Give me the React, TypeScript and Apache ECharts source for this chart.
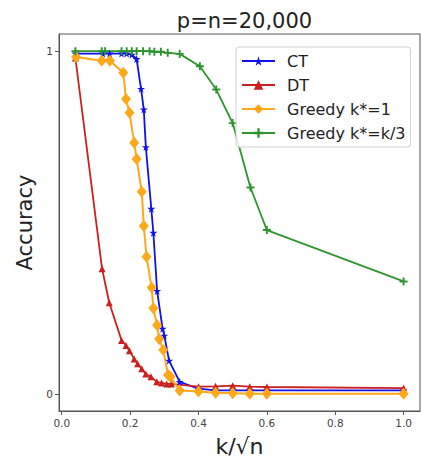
import React, { useEffect, useRef } from "react";
import * as echarts from "echarts";

const xCT = [0.04, 0.12, 0.14, 0.175, 0.19, 0.205, 0.219, 0.232, 0.24, 0.246, 0.262, 0.268, 0.279, 0.295, 0.3, 0.314, 0.345, 0.4, 0.45, 0.5, 0.55, 0.6, 1.0];
const yCT = [0.993, 0.993, 0.993, 0.993, 0.993, 0.99, 0.977, 0.89, 0.83, 0.72, 0.54, 0.47, 0.3, 0.19, 0.17, 0.097, 0.035, 0.015, 0.01, 0.01, 0.01, 0.01, 0.01];

const xDT = [0.04, 0.118, 0.139, 0.175, 0.188, 0.198, 0.212, 0.222, 0.234, 0.246, 0.261, 0.278, 0.292, 0.307, 0.321, 0.4, 0.45, 0.5, 0.55, 0.6, 1.0];
const yDT = [0.98, 0.365, 0.266, 0.156, 0.141, 0.126, 0.102, 0.088, 0.073, 0.058, 0.05, 0.035, 0.032, 0.029, 0.029, 0.021, 0.022, 0.024, 0.021, 0.02, 0.017];

const xG1 = [0.042, 0.117, 0.141, 0.18, 0.188, 0.198, 0.212, 0.219, 0.234, 0.24, 0.248, 0.263, 0.268, 0.279, 0.285, 0.297, 0.311, 0.318, 0.345, 0.4, 0.45, 0.5, 0.55, 0.6, 1.0];
const yG1 = [0.983, 0.972, 0.972, 0.937, 0.86, 0.82, 0.733, 0.685, 0.59, 0.49, 0.4, 0.31, 0.25, 0.2, 0.16, 0.128, 0.055, 0.05, 0.01, 0.007, 0.003, 0.002, 0.0, 0.0, 0.0];

const xG3 = [0.04, 0.117, 0.127, 0.175, 0.19, 0.205, 0.219, 0.238, 0.257, 0.271, 0.29, 0.31, 0.345, 0.404, 0.452, 0.5, 0.552, 0.6, 1.0];
const yG3 = [1.0, 1.0, 1.0, 1.0, 1.0, 1.0, 1.0, 1.0, 1.0, 0.998, 0.998, 0.995, 0.992, 0.956, 0.888, 0.79, 0.602, 0.478, 0.328];

const xTicks = [0, 0.2, 0.4, 0.6, 0.8, 1.0];
const yTicks = [0, 1];

const FONT = "DejaVu Sans";
const STAR = "path://M50,0 L61,35 L98,35 L68,57 L79,91 L50,70 L21,91 L32,57 L2,35 L39,35 Z";
const PLUS = "path://M38,0 H62 V38 H100 V62 H62 V100 H38 V62 H0 V38 H38 Z";

function pairs(xs: number[], ys: number[]) {
  return xs.map((x, i) => [x, ys[i]]);
}

export default function App() {
  const ref = useRef<HTMLDivElement>(null);
  useEffect(() => {
    if (!ref.current) return;
    const chart = echarts.init(ref.current, null, { renderer: "svg" });
    const mk = (name: string, xs: number[], ys: number[], color: string, symbol: string, size: any, lw: number) => ({
      name,
      type: "line",
      data: pairs(xs, ys),
      symbol,
      symbolSize: size,
      showSymbol: true,
      lineStyle: { color, width: lw },
      itemStyle: { color, borderWidth: 0 },
      emphasis: { disabled: true },
    });
    chart.setOption({
      animation: false,
      textStyle: { fontFamily: FONT },
      title: {
        text: "p=n=20,000",
        left: 239.5,
        textAlign: "center",
        top: 5,
        textStyle: { fontFamily: FONT, fontSize: 21, fontWeight: "normal", color: "#222" },
      },
      grid: { left: 59, right: 2, top: 34, bottom: 54, show: true, borderColor: "#555", borderWidth: 1, backgroundColor: "transparent" },
      legend: {
        orient: "vertical",
        left: 236,
        top: 47,
        itemWidth: 33,
        itemHeight: 12,
        itemGap: 8,
        padding: [6, 5, 6, 5],
        borderColor: "#d0d0d0",
        borderWidth: 1,
        borderRadius: 3,
        backgroundColor: "rgba(255,255,255,0.85)",
        textStyle: { fontFamily: FONT, fontSize: 16, color: "#222", padding: [0, 0, 0, 7], lineHeight: 16 },
        data: ["CT", "DT", "Greedy k*=1", "Greedy k*=k/3"],
      },
      xAxis: {
        type: "value",
        min: -0.008,
        max: 1.048,
        name: "k/√n",
        nameLocation: "middle",
        nameGap: 24,
        nameTextStyle: { fontFamily: FONT, fontSize: 22, color: "#222" },
        axisLine: { show: true, onZero: false, lineStyle: { color: "#555", width: 1 } },
        axisTick: { show: true, length: 4, customValues: xTicks, lineStyle: { color: "#555" } },
        axisLabel: {
          customValues: xTicks,
          formatter: (v: number) => v.toFixed(1),
          fontFamily: FONT,
          fontSize: 10.5,
          color: "#444",
          margin: 6,
        },
        splitLine: { show: false },
      },
      yAxis: {
        type: "value",
        min: -0.05,
        max: 1.05,
        name: "Accuracy",
        nameLocation: "middle",
        nameGap: 22,
        nameTextStyle: { fontFamily: FONT, fontSize: 21, color: "#222" },
        axisLine: { show: true, onZero: false, lineStyle: { color: "#555", width: 1 } },
        axisTick: { show: true, length: 4, customValues: yTicks, lineStyle: { color: "#555" } },
        axisLabel: {
          customValues: yTicks,
          formatter: (v: number) => String(Math.round(v)),
          fontFamily: FONT,
          fontSize: 10.5,
          color: "#444",
          margin: 6,
        },
        splitLine: { show: false },
      },
      series: [
        mk("CT", xCT, yCT, "#1010ee", STAR, 8, 1.8),
        mk("DT", xDT, yDT, "#cc2020", "triangle", 7, 1.8),
        mk("Greedy k*=1", xG1, yG1, "#ffa81a", "diamond", [10, 12], 2),
        mk("Greedy k*=k/3", xG3, yG3, "#2e952e", PLUS, 8, 1.8),
      ],
    });
    return () => chart.dispose();
  }, []);
  return <div ref={ref} style={{ position: "absolute", left: 0, top: 0, width: 422, height: 465 }} />;
}
